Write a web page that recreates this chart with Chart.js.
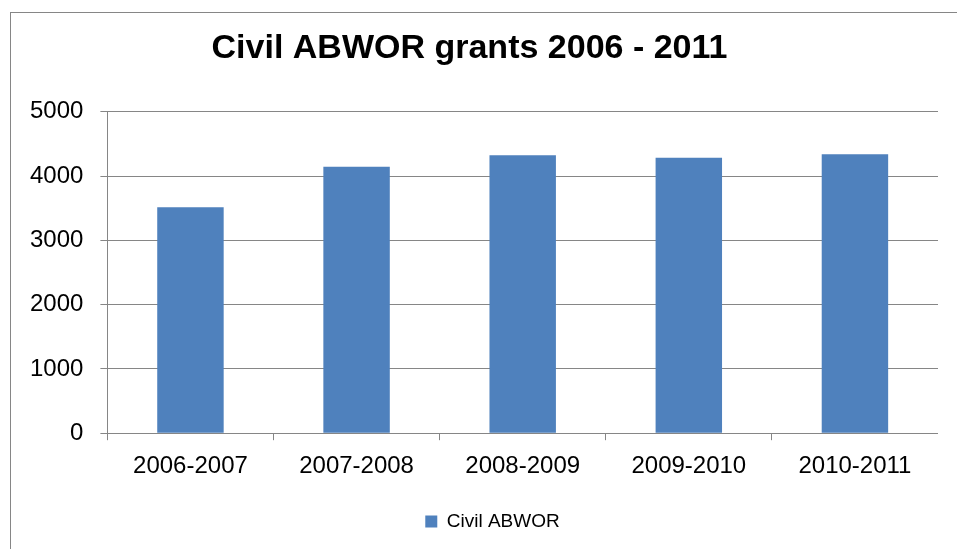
<!DOCTYPE html>
<html lang="en">
<head>
<meta charset="UTF-8">
<title>Civil ABWOR grants 2006 - 2011</title>
<script src="https://cdn.jsdelivr.net/npm/chart.js"></script>
<style>
  body { margin: 0; background: #fff; overflow: hidden; }
  #frame { position: absolute; left: 10px; top: 12px; width: 1000px; height: 600px;
           border-left: 1px solid #868686; border-top: 1px solid #868686; }
  #wrap { position: absolute; left: 0; top: 0; width: 938px; height: 550px; }
</style>
</head>
<body>
<div id="frame"></div>
<div id="wrap"><canvas id="grantsChart"></canvas></div>
<script>
// chart data
const years = ['2006-2007', '2007-2008', '2008-2009', '2009-2010', '2010-2011'];
const civilAbwor = [3515, 4147, 4324, 4287, 4340];
const yTicks = [0, 1000, 2000, 3000, 4000, 5000];

const FONT = "'Liberation Sans', Arial, sans-serif";
const GREY = '#868686';

// Excel centres title and legend a bit differently than Chart.js does
const boxShift = {
  id: 'boxShift',
  afterLayout(chart) {
    chart.titleBlock.left -= 6;
    chart.titleBlock.right -= 6;
    chart.legend.left += 17;
    chart.legend.right += 17;
  }
};

new Chart(document.getElementById('grantsChart'), {
  type: 'bar',
  data: {
    labels: years,
    datasets: [{
      label: 'Civil ABWOR',
      data: civilAbwor,
      backgroundColor: '#4F81BD',
      categoryPercentage: 1,
      barPercentage: 0.4
    }]
  },
  options: {
    responsive: true,
    maintainAspectRatio: false,
    animation: false,
    layout: { padding: { left: 13, right: 0, top: 0, bottom: 9 } },
    plugins: {
      title: {
        display: true,
        text: 'Civil ABWOR grants 2006 - 2011',
        color: '#000',
        font: { family: FONT, size: 34, weight: 'bold' },
        padding: { top: 28, bottom: 43 }
      },
      legend: {
        position: 'bottom',
        labels: {
          color: '#000',
          font: { family: FONT, size: 19 },
          boxWidth: 12,
          boxHeight: 12,
          padding: 19
        }
      },
      tooltip: { enabled: false }
    },
    scales: {
      x: {
        grid: { drawOnChartArea: false, color: GREY, tickLength: 7 },
        border: { color: GREY },
        ticks: { color: '#000', font: { family: FONT, size: 24 }, padding: 12, maxRotation: 0 }
      },
      y: {
        min: yTicks[0],
        max: yTicks[yTicks.length - 1],
        afterBuildTicks(axis) { axis.ticks = yTicks.map(v => ({ value: v })); },
        grid: { color: GREY, tickLength: 7 },
        border: { color: GREY },
        ticks: {
          color: '#000',
          font: { family: FONT, size: 24 },
          padding: 17,
          callback: v => String(v)
        }
      }
    }
  },
  plugins: [boxShift]
});
</script>
</body>
</html>
